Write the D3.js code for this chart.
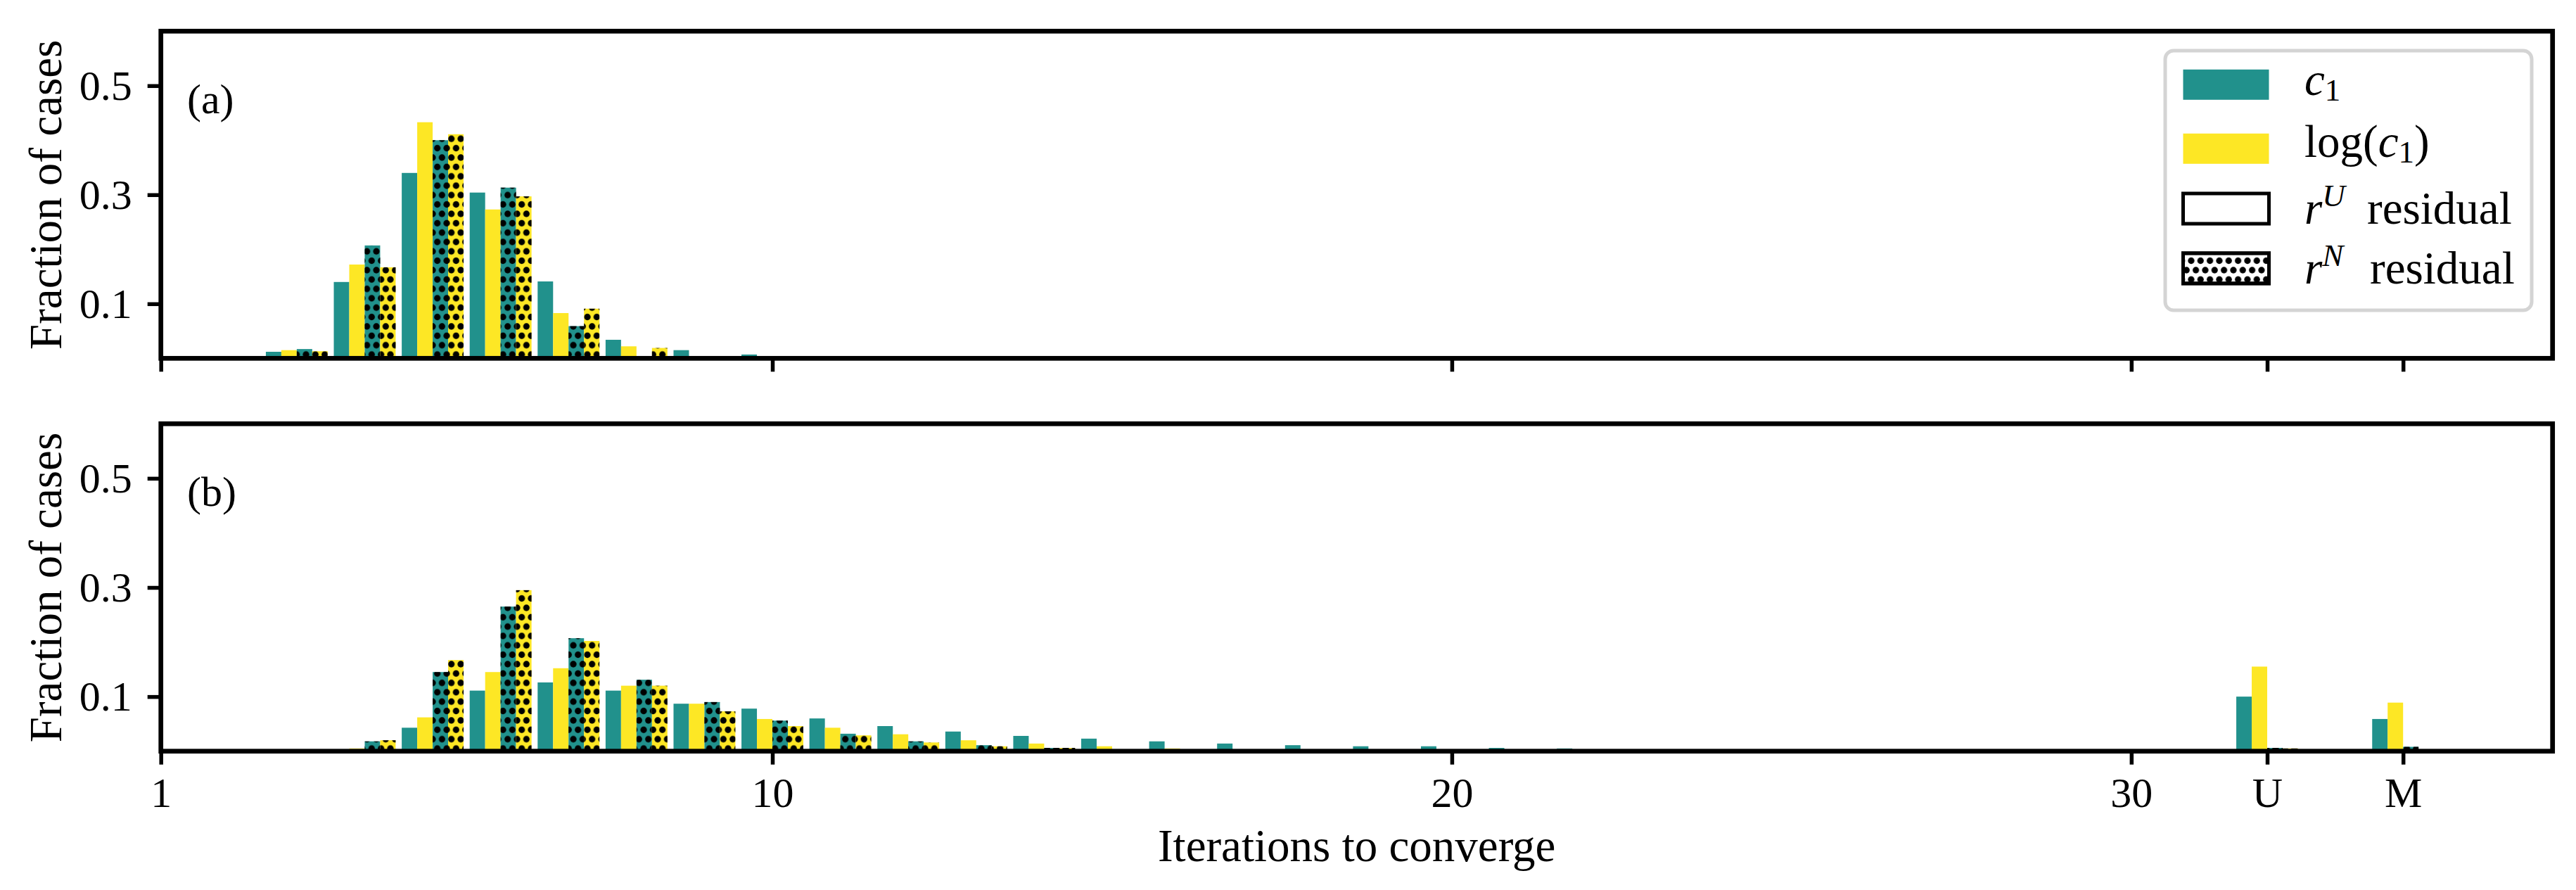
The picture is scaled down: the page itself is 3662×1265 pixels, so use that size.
<!DOCTYPE html>
<html>
<head>
<meta charset="utf-8">
<title>Iterations to converge</title>
<script src="https://cdn.jsdelivr.net/npm/d3@7"></script>
<style>
  body { margin: 0; background: #fff; }
  text { font-family: "Liberation Serif", "DejaVu Serif", serif; fill: #000; }
</style>
</head>
<body>
<div id="chart"></div>
<script>
// iterations bins; U and M sit at 32 and 34 on the axis
var bins = [3,4,5,6,7,8,9,10,11,12,13,14,15,16,17,18,19,20,21,22,'U','M'];
var binPos = {U: 32, M: 34};
var xTicks = [1, 10, 20, 30, 32, 34];
var xTickNames = {32: 'U', 34: 'M'};
var yTicks = [0.1, 0.3, 0.5];

// panel (a)
var a_c1_rU  = [0.012,0.140,0.340,0.304,0.141,0.034,0.015,0.007,0,0,0,0,0,0,0,0,0,0,0,0,0,0];
var a_log_rU = [0.015,0.172,0.433,0.273,0.083,0.022,0,0,0,0,0,0,0,0,0,0,0,0,0,0,0,0];
var a_c1_rN  = [0.017,0.207,0.400,0.313,0.059,0.001,0,0,0,0,0,0,0,0,0,0,0,0,0,0,0,0];
var a_log_rN = [0.013,0.167,0.411,0.297,0.091,0.019,0,0,0,0,0,0,0,0,0,0,0,0,0,0,0,0];

// panel (b)
var b_c1_rU  = [0,0,0.043,0.111,0.126,0.111,0.087,0.078,0.060,0.046,0.036,0.028,0.023,0.018,0.014,0.011,0.009,0.009,0.006,0.005,0.100,0.059];
var b_log_rU = [0,0.005,0.062,0.145,0.152,0.120,0.087,0.059,0.043,0.031,0.020,0.014,0.009,0.005,0,0,0,0,0,0,0.155,0.089];
var b_c1_rN  = [0,0.018,0.145,0.265,0.207,0.131,0.090,0.056,0.032,0.018,0.011,0.006,0,0,0,0,0,0,0,0,0.006,0.008];
var b_log_rN = [0,0.020,0.167,0.295,0.202,0.120,0.073,0.046,0.029,0.016,0.009,0.006,0,0,0,0,0,0,0,0,0.005,0];

var teal = '#21918c';
var yellow = '#fde725';

var width = 3662;
var height = 1265;
var tickFont = 60;
var labelFont = 65;
var barW = 0.2275;

var panels = [
  {label: '(a)', top: 44.3, bottom: 509.3, showX: false, legend: true,
   series: [a_c1_rU, a_log_rU, a_c1_rN, a_log_rN]},
  {label: '(b)', top: 602.3, bottom: 1067.7, showX: true, legend: false,
   series: [b_c1_rU, b_log_rU, b_c1_rN, b_log_rN]}
];
var seriesColor = [teal, yellow, teal, yellow];
var seriesDots = [false, false, true, true];

var svg = d3.select('#chart')
  .append('svg')
  .attr('width', width)
  .attr('height', height);

// dotted hatch, aligned to the page like matplotlib does
var defs = svg.append('defs');
var pat = defs.append('pattern')
  .attr('id', 'dots')
  .attr('patternUnits', 'userSpaceOnUse')
  .attr('x', 1.7)
  .attr('y', 10.6)
  .attr('width', 13.333)
  .attr('height', 26.667);
[[0,0],[13.333,0],[0,26.667],[13.333,26.667],[6.667,13.333]].forEach(function(p){
  pat.append('circle').attr('cx', p[0]).attr('cy', p[1]).attr('r', 4.6).attr('fill', '#000');
});

var x = d3.scaleLinear().domain([1, 36.2]).range([228.7, 3628.7]);

function pos(b) { return binPos[b] !== undefined ? binPos[b] : b; }

panels.forEach(function(p){
  var y = d3.scaleLinear().domain([0, 0.6]).range([p.bottom, p.top]);
  var g = svg.append('g');

  p.series.forEach(function(vals, i){
    var data = bins.map(function(b, j){ return {b: b, v: vals[j]}; })
      .filter(function(d){ return d.v > 0; });
    var xs = function(d){ return x(pos(d.b) + (i - 2) * barW); };
    var bw = x(1 + barW) - x(1);

    g.selectAll('.bar' + i)
      .data(data)
      .enter()
      .append('rect')
      .attr('x', xs)
      .attr('y', function(d){ return y(d.v); })
      .attr('width', bw)
      .attr('height', function(d){ return y(0) - y(d.v); })
      .attr('fill', seriesColor[i]);

    if (seriesDots[i]) {
      g.selectAll('.dot' + i)
        .data(data)
        .enter()
        .append('rect')
        .attr('x', xs)
        .attr('y', function(d){ return y(d.v); })
        .attr('width', bw)
        .attr('height', function(d){ return y(0) - y(d.v); })
        .attr('fill', 'url(#dots)');
    }
  });

  // x axis
  var xAxis = d3.axisBottom(x)
    .tickValues(xTicks)
    .tickSize(19)
    .tickPadding(18)
    .tickFormat(function(d){ return p.showX ? (xTickNames[d] || d) : ''; });
  var gx = svg.append('g')
    .attr('transform', 'translate(0,' + y(0) + ')')
    .call(xAxis);
  gx.select('.domain').remove();
  gx.selectAll('line').attr('stroke-width', 5.5);
  gx.selectAll('text')
    .attr('font-size', tickFont)
    .attr('font-family', '"Liberation Serif", serif');

  // y axis
  var yAxis = d3.axisLeft(y)
    .tickValues(yTicks)
    .tickSize(19)
    .tickPadding(22)
    .tickFormat(d3.format('.1f'));
  var gy = svg.append('g')
    .attr('transform', 'translate(' + x(1) + ',0)')
    .call(yAxis);
  gy.select('.domain').remove();
  gy.selectAll('line').attr('stroke-width', 5.5);
  gy.selectAll('text')
    .attr('font-size', tickFont)
    .attr('font-family', '"Liberation Serif", serif');

  // frame
  svg.append('rect')
    .attr('x', x(1))
    .attr('y', p.top)
    .attr('width', x(36.2) - x(1))
    .attr('height', p.bottom - p.top)
    .attr('fill', 'none')
    .attr('stroke', '#000')
    .attr('stroke-width', 6.7);

  // panel tag
  svg.append('text')
    .attr('x', 266)
    .attr('y', p.top + 117)
    .attr('font-size', tickFont)
    .text(p.label);

  // y label
  svg.append('text')
    .attr('transform', 'translate(87,' + (p.top + p.bottom) / 2 + ') rotate(-90)')
    .attr('text-anchor', 'middle')
    .attr('font-size', labelFont)
    .text('Fraction of cases');

  if (p.legend) {
    var lg = svg.append('g');
    lg.append('rect')
      .attr('x', 3078).attr('y', 72)
      .attr('width', 521).attr('height', 369)
      .attr('rx', 12).attr('ry', 12)
      .attr('fill', '#fff')
      .attr('fill-opacity', 0.8)
      .attr('stroke', '#d4d4d4')
      .attr('stroke-width', 5);

    var items = [
      {cy: 120.3, fill: teal, stroke: 'none', dots: false, base: 135},
      {cy: 211.3, fill: yellow, stroke: 'none', dots: false, base: 223},
      {cy: 296.5, fill: '#fff', stroke: '#000', dots: false, base: 318, rx: 3365},
      {cy: 381.4, fill: '#fff', stroke: '#000', dots: true, base: 403, rx: 3369}
    ];
    items.forEach(function(it, k){
      lg.append('rect')
        .attr('x', 3103.5).attr('y', it.cy - 21.5)
        .attr('width', 122).attr('height', 43)
        .attr('fill', it.fill)
        .attr('stroke', it.stroke)
        .attr('stroke-width', 5);
      if (it.dots) {
        lg.append('rect')
          .attr('x', 3103.5).attr('y', it.cy - 21.5)
          .attr('width', 122).attr('height', 43)
          .attr('fill', 'url(#dots)')
          .attr('stroke', '#000')
          .attr('stroke-width', 5);
      }
      var t = lg.append('text')
        .attr('x', 3276)
        .attr('y', it.base)
        .attr('font-size', labelFont);
      if (k === 0) {
        t.append('tspan').attr('font-style', 'italic').text('c');
        t.append('tspan').attr('font-size', 45).attr('dy', 8).text('1');
      } else if (k === 1) {
        t.append('tspan').text('log(');
        t.append('tspan').attr('font-style', 'italic').text('c');
        t.append('tspan').attr('font-size', 45).attr('dy', 8).text('1');
        t.append('tspan').attr('dy', -8).text(')');
      } else {
        t.append('tspan').attr('font-style', 'italic').text('r');
        t.append('tspan').attr('font-style', 'italic').attr('font-size', 45).attr('dy', -25)
          .text(k === 2 ? 'U' : 'N');
        t.append('tspan').attr('x', it.rx).attr('dy', 25).text('residual');
      }
    });
  }
});

// x label
svg.append('text')
  .attr('x', (x(1) + x(36.2)) / 2)
  .attr('y', 1224)
  .attr('text-anchor', 'middle')
  .attr('font-size', labelFont)
  .text('Iterations to converge');
</script>
</body>
</html>
